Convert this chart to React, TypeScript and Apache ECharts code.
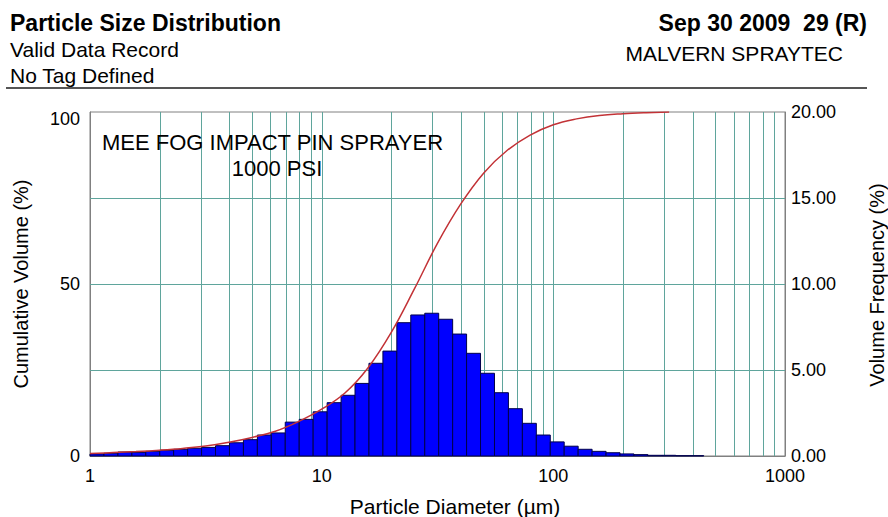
import React, { useEffect, useRef } from "react";
import * as echarts from "echarts";

// Size band edges (µm), 44 bands
const binEdges = [
  1, 1.149, 1.32, 1.516, 1.741, 2.0, 2.297, 2.639, 3.031, 3.482, 4.0, 4.595, 5.278, 6.063, 6.964,
  8.0, 9.19, 10.56, 12.13, 13.93, 16.0, 18.38, 21.11, 24.25, 27.86, 32.0, 36.76, 42.22, 48.5,
  55.72, 64.0, 73.52, 84.45, 97.01, 111.4, 128.0, 147.0, 168.9, 194.0, 222.9, 256.0, 294.1,
  337.8, 388.0, 445.7,
];

// Volume frequency (%) per band
const volumeFrequency = [
  0.12, 0.16, 0.23, 0.21, 0.27, 0.33, 0.39, 0.45, 0.5, 0.6, 0.77,
  0.95, 1.22, 1.34, 1.97, 2.13, 2.57, 3.1, 3.53, 4.22, 5.39, 6.1,
  7.75, 8.2, 8.3, 7.95, 7.09, 5.97, 4.81, 3.68, 2.75, 1.9, 1.22,
  0.82, 0.57, 0.39, 0.27, 0.19, 0.12, 0.08, 0.04, 0.04, 0.02, 0.02,
];

// Cumulative volume curve (µm, %)
const cumulativeDiameter = [
  1, 1.26, 1.58, 2, 2.51, 3.16, 3.98, 5.01, 6.31, 7.94, 10, 12.6, 15.8, 20, 25.1, 31.6, 39.8,
  50.1, 63.1, 79.4, 100, 126, 158, 200, 251, 316,
];
const cumulativeVolume = [
  0.7, 1.0, 1.3, 1.7, 2.2, 2.9, 4.0, 5.4, 7.2, 10.0, 13.6, 18.3, 25.5, 36.0, 48.5, 61.8, 73.2,
  82.3, 88.8, 93.3, 96.3, 98.0, 99.0, 99.5, 99.8, 100,
];

const verticalGridDiameters = [
  2, 3, 4, 5, 6, 7, 8, 9, 10, 20, 30, 40, 50, 60, 70, 80, 90, 100, 200, 300, 400, 500, 600,
  700, 800, 900,
];
const horizontalGridValues = [25, 50, 75];

const FONT = "'Liberation Sans', Arial, sans-serif";
const GRID_COLOR = "#5fa59c";

export default function App() {
  const ref = useRef<HTMLDivElement>(null);

  useEffect(() => {
    const chart = echarts.init(ref.current!, null, { renderer: "svg" });

    const barData = volumeFrequency.map((v, i) => [binEdges[i], binEdges[i + 1], v]);
    const lineData = cumulativeDiameter.map((d, i) => [d, cumulativeVolume[i]]);

    const txt = (
      text: string,
      x: number,
      y: number,
      size: number,
      align: string,
      bold = false,
      rotation = 0
    ) => ({
      type: "text",
      x,
      y,
      z: 10,
      rotation,
      style: {
        text,
        fontSize: size,
        fontWeight: bold ? "bold" : "normal",
        fontFamily: FONT,
        fill: "#000",
        textAlign: align,
        textVerticalAlign: "middle",
      },
    });

    const option: any = {
      animation: false,
      backgroundColor: "#ffffff",
      textStyle: { fontFamily: FONT },
      grid: {
        left: 90,
        top: 112,
        right: 103,
        bottom: 61,
        show: true,
        borderColor: "#808080",
        borderWidth: 1,
        backgroundColor: "transparent",
      },
      xAxis: {
        type: "log",
        logBase: 10,
        min: 1,
        max: 1000,
        axisLine: { show: true, lineStyle: { color: "#808080", width: 1 } },
        axisTick: { show: false },
        splitLine: { show: false },
        axisLabel: {
          color: "#000",
          fontSize: 18,
          fontFamily: FONT,
          margin: 11,
          formatter: (v: number) => String(v),
        },
      },
      yAxis: [
        {
          type: "value",
          min: 0,
          max: 100,
          interval: 50,
          position: "left",
          axisLine: { show: true, lineStyle: { color: "#808080", width: 1 } },
          axisTick: { show: false },
          splitLine: { show: false },
          axisLabel: {
            color: "#000",
            fontSize: 18,
            fontFamily: FONT,
            margin: 10,
            formatter: (v: number) => (v === 100 ? "{t|100}" : String(v)),
            rich: { t: { fontSize: 18, fontFamily: FONT, color: "#000", padding: [14, 0, 0, 0] } },
          },
        },
        {
          type: "value",
          min: 0,
          max: 20,
          interval: 5,
          position: "right",
          axisLine: { show: true, lineStyle: { color: "#808080", width: 1 } },
          axisTick: { show: false },
          splitLine: { show: false },
          axisLabel: {
            color: "#000",
            fontSize: 18,
            fontFamily: FONT,
            margin: 6,
            formatter: (v: number) => v.toFixed(2),
          },
        },
      ],
      series: [
        {
          type: "custom",
          name: "vgrid",
          silent: true,
          z: 1,
          xAxisIndex: 0,
          yAxisIndex: 0,
          data: verticalGridDiameters.map((d) => [d, 0]),
          encode: { x: 0, y: 1 },
          renderItem: (params: any, api: any) => {
            const v = api.value(0);
            const p0 = api.coord([v, 0]);
            const p1 = api.coord([v, 100]);
            const x = Math.round(p0[0]) + 0.5;
            return {
              type: "line",
              shape: { x1: x, y1: p0[1], x2: x, y2: p1[1] },
              style: { stroke: GRID_COLOR, lineWidth: 1 },
            };
          },
        },
        {
          type: "custom",
          name: "hgrid",
          silent: true,
          z: 1,
          xAxisIndex: 0,
          yAxisIndex: 0,
          data: horizontalGridValues.map((v) => [1, v]),
          encode: { x: 0, y: 1 },
          renderItem: (params: any, api: any) => {
            const v = api.value(1);
            const p0 = api.coord([1, v]);
            const p1 = api.coord([1000, v]);
            const y = Math.round(p0[1]) + 0.5;
            return {
              type: "line",
              shape: { x1: p0[0], y1: y, x2: p1[0], y2: y },
              style: { stroke: GRID_COLOR, lineWidth: 1 },
            };
          },
        },
        {
          type: "custom",
          name: "Volume Frequency",
          z: 2,
          xAxisIndex: 0,
          yAxisIndex: 1,
          data: barData,
          encode: { x: [0, 1], y: 2 },
          renderItem: (params: any, api: any) => {
            const a = api.coord([api.value(0), api.value(2)]);
            const b = api.coord([api.value(1), 0]);
            return {
              type: "rect",
              shape: { x: a[0], y: a[1], width: b[0] - a[0], height: b[1] - a[1] },
              style: { fill: "#0000ff", stroke: "#00004a", lineWidth: 1 },
            };
          },
        },
        {
          type: "line",
          name: "Cumulative Volume",
          z: 3,
          xAxisIndex: 0,
          yAxisIndex: 0,
          data: lineData,
          showSymbol: false,
          smooth: 0.4,
          lineStyle: { color: "#c23236", width: 1.5 },
        },
      ],
      graphic: [
        txt("Particle Size Distribution", 10, 23, 23, "left", true),
        txt("Valid Data Record", 10, 49, 21, "left"),
        txt("No Tag Defined", 10, 75, 21, "left"),
        txt("Sep 30 2009  29 (R)", 867, 23, 23, "right", true),
        txt("MALVERN SPRAYTEC", 843, 53, 21, "right"),
        {
          type: "line",
          shape: { x1: 6, y1: 88, x2: 867, y2: 88 },
          style: { stroke: "#555555", lineWidth: 2 },
        },
        txt("MEE FOG IMPACT PIN SPRAYER", 102, 142, 22, "left"),
        txt("1000 PSI", 277, 168, 22, "center"),
        txt("Cumulative Volume (%)", 21, 284, 20, "center", false, Math.PI / 2),
        txt("Volume Frequency (%)", 877, 285, 20, "center", false, Math.PI / 2),
        txt("Particle Diameter (µm)", 455, 506, 21, "center"),
      ],
    };

    chart.setOption(option);
    return () => chart.dispose();
  }, []);

  return (
    <div
      ref={ref}
      style={{ position: "fixed", left: 0, top: 0, width: 888, height: 517, background: "#fff" }}
    />
  );
}
